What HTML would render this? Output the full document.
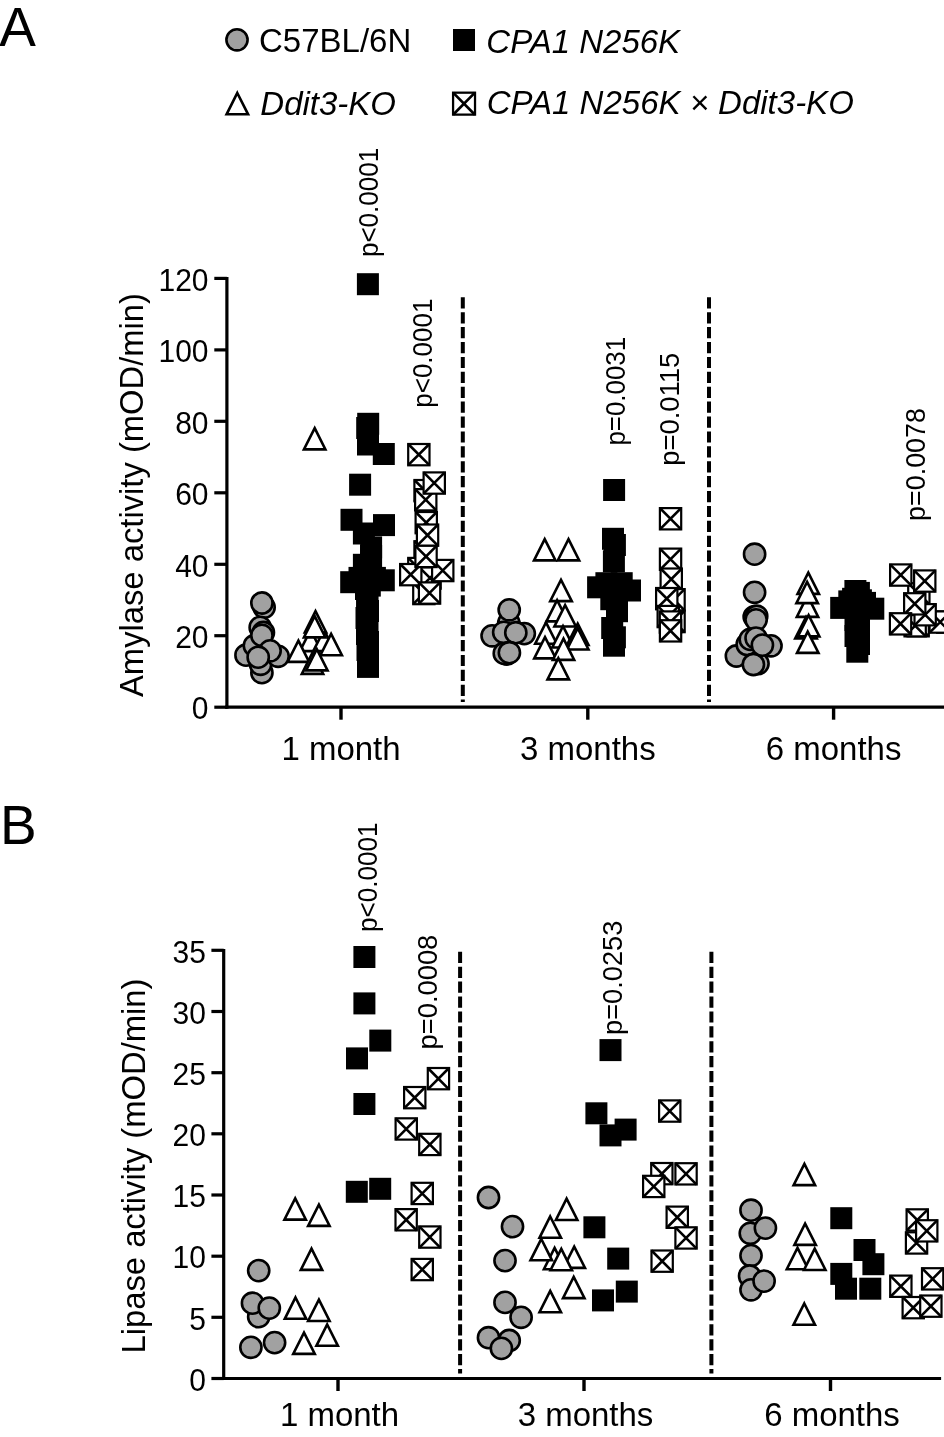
<!DOCTYPE html>
<html><head><meta charset="utf-8"><style>
html,body{margin:0;padding:0;background:#fff;width:944px;height:1437px;overflow:hidden}
svg{display:block}
text{font-family:"Liberation Sans", sans-serif;fill:#000}
.c{fill:#a1a1a1;stroke:#000;stroke-width:2.6}
.t{fill:#fff;stroke:#000;stroke-width:2.6;stroke-linejoin:miter;stroke-miterlimit:10}
.x rect{fill:#fff;stroke:#000;stroke-width:2.2}
.x path{fill:none;stroke:#000;stroke-width:2.6}
.ax{stroke:#000;stroke-width:3.2;fill:none;stroke-linecap:butt}
.dash{stroke:#000;stroke-width:4;stroke-dasharray:11.2 3.7;fill:none}
</style></head><body><div style="will-change:transform;width:944px;height:1437px">
<svg width="944" height="1437" viewBox="0 0 944 1437">
<rect width="944" height="1437" fill="#fff"/>
<text transform="translate(-0.85,45.9) scale(1,1.015)" font-size="55">A</text>
<text transform="translate(0.1,843.8) scale(1,1.015)" font-size="55">B</text>
<circle cx="237.0" cy="39.8" r="10.6" class="c"/>
<text transform="translate(259,52.3) scale(1,1.035)" font-size="33">C57BL/6N</text>
<rect x="453.0" y="29.0" width="22" height="22"/>
<text transform="translate(486.3,52.5) scale(1,1.035)" font-size="33" font-style="italic">CPA1 N256K</text>
<path d="M237.3,93.0L248.1,114.3H226.6Z" class="t"/>
<text transform="translate(260.3,114.5) scale(1,1.035)" font-size="33" font-style="italic">Ddit3-KO</text>
<g class="x" transform="translate(464,103.7) scale(1.03) translate(-464,-103.7)"><rect x="453.4" y="93.0" width="21.3" height="21.3"/><path d="M453.4,93.0L474.6,114.4M474.6,93.0L453.4,114.4"/></g>
<text transform="translate(486.7,114.4) scale(1,1.035)" font-size="33" font-style="italic">CPA1 N256K × Ddit3-KO</text>
<path class="ax" d="M226.9,277V708.8000000000001"/>
<path class="ax" d="M225.3,707.2H944"/>
<path class="ax" d="M214.3,707.2H226.9"/>
<text transform="translate(208.5,719.4) scale(1,1.05)" font-size="30" text-anchor="end">0</text>
<path class="ax" d="M214.3,635.7H226.9"/>
<text transform="translate(208.5,647.9) scale(1,1.05)" font-size="30" text-anchor="end">20</text>
<path class="ax" d="M214.3,564.3H226.9"/>
<text transform="translate(208.5,576.5) scale(1,1.05)" font-size="30" text-anchor="end">40</text>
<path class="ax" d="M214.3,492.8H226.9"/>
<text transform="translate(208.5,505.0) scale(1,1.05)" font-size="30" text-anchor="end">60</text>
<path class="ax" d="M214.3,421.3H226.9"/>
<text transform="translate(208.5,433.5) scale(1,1.05)" font-size="30" text-anchor="end">80</text>
<path class="ax" d="M214.3,349.9H226.9"/>
<text transform="translate(208.5,362.1) scale(1,1.05)" font-size="30" text-anchor="end">100</text>
<path class="ax" d="M214.3,278.4H226.9"/>
<text transform="translate(208.5,290.6) scale(1,1.05)" font-size="30" text-anchor="end">120</text>
<path class="ax" d="M341,707.2V719.7" style="stroke-width:3.4"/>
<text transform="translate(341,759.6) scale(1,1.01)" font-size="33" text-anchor="middle">1 month</text>
<path class="ax" d="M587.8,707.2V719.7" style="stroke-width:3.4"/>
<text transform="translate(587.8,759.6) scale(1,1.01)" font-size="33" text-anchor="middle">3 months</text>
<path class="ax" d="M833.6,707.2V719.7" style="stroke-width:3.4"/>
<text transform="translate(833.6,759.6) scale(1,1.01)" font-size="33" text-anchor="middle">6 months</text>
<path class="dash" d="M462.8,297.3V702"/>
<path class="dash" d="M709,297.3V702"/>
<text transform="translate(142.9,697) rotate(-90)" font-size="33" textLength="404.0" lengthAdjust="spacingAndGlyphs">Amylase activity (mOD/min)</text>
<path class="ax" d="M223.7,949V1380.1"/>
<path class="ax" d="M222.1,1378.5H941.1"/>
<path class="ax" d="M211.4,1378.5H223.7"/>
<text transform="translate(205.9,1390.7) scale(1,1.05)" font-size="30" text-anchor="end">0</text>
<path class="ax" d="M211.4,1317.3H223.7"/>
<text transform="translate(205.9,1329.5) scale(1,1.05)" font-size="30" text-anchor="end">5</text>
<path class="ax" d="M211.4,1256.2H223.7"/>
<text transform="translate(205.9,1268.4) scale(1,1.05)" font-size="30" text-anchor="end">10</text>
<path class="ax" d="M211.4,1195.0H223.7"/>
<text transform="translate(205.9,1207.2) scale(1,1.05)" font-size="30" text-anchor="end">15</text>
<path class="ax" d="M211.4,1133.8H223.7"/>
<text transform="translate(205.9,1146.0) scale(1,1.05)" font-size="30" text-anchor="end">20</text>
<path class="ax" d="M211.4,1072.7H223.7"/>
<text transform="translate(205.9,1084.9) scale(1,1.05)" font-size="30" text-anchor="end">25</text>
<path class="ax" d="M211.4,1011.5H223.7"/>
<text transform="translate(205.9,1023.7) scale(1,1.05)" font-size="30" text-anchor="end">30</text>
<path class="ax" d="M211.4,950.3H223.7"/>
<text transform="translate(205.9,962.5) scale(1,1.05)" font-size="30" text-anchor="end">35</text>
<path class="ax" d="M338,1378.5V1391.0" style="stroke-width:3.4"/>
<text transform="translate(339.5,1425.7) scale(1,1.01)" font-size="33" text-anchor="middle">1 month</text>
<path class="ax" d="M584,1378.5V1391.0" style="stroke-width:3.4"/>
<text transform="translate(585.5,1425.7) scale(1,1.01)" font-size="33" text-anchor="middle">3 months</text>
<path class="ax" d="M830.5,1378.5V1391.0" style="stroke-width:3.4"/>
<text transform="translate(832.0,1425.7) scale(1,1.01)" font-size="33" text-anchor="middle">6 months</text>
<path class="dash" d="M460.1,951.8V1373.4"/>
<path class="dash" d="M711.4,951.8V1373.4"/>
<text transform="translate(144.8,1353.5) rotate(-90)" font-size="33" textLength="375.0" lengthAdjust="spacingAndGlyphs">Lipase activity (mOD/min)</text>
<text transform="translate(377.7,257.1) rotate(-90)" font-size="27" textLength="109.4" lengthAdjust="spacingAndGlyphs">p&lt;0.0001</text>
<text transform="translate(431.8,407.7) rotate(-90)" font-size="27" textLength="109.1" lengthAdjust="spacingAndGlyphs">p&lt;0.0001</text>
<text transform="translate(624.7,445.6) rotate(-90)" font-size="27" textLength="108.8" lengthAdjust="spacingAndGlyphs">p=0.0031</text>
<text transform="translate(679.1,465.8) rotate(-90)" font-size="27" textLength="113.1" lengthAdjust="spacingAndGlyphs">p=0.0115</text>
<text transform="translate(924.9,520.9) rotate(-90)" font-size="27" textLength="112.8" lengthAdjust="spacingAndGlyphs">p=0.0078</text>
<text transform="translate(376.9,932) rotate(-90)" font-size="27" textLength="109.5" lengthAdjust="spacingAndGlyphs">p&lt;0.0001</text>
<text transform="translate(436.5,1049.4) rotate(-90)" font-size="27" textLength="114.7" lengthAdjust="spacingAndGlyphs">p=0.0008</text>
<text transform="translate(621.9,1035) rotate(-90)" font-size="27" textLength="114.4" lengthAdjust="spacingAndGlyphs">p=0.0253</text>
<g>
<circle cx="264.1" cy="607.3" r="10.6" class="c"/>
<circle cx="261.9" cy="603.0" r="10.6" class="c"/>
<circle cx="260.2" cy="627.4" r="10.6" class="c"/>
<circle cx="263.4" cy="632.5" r="10.6" class="c"/>
<circle cx="261.9" cy="672.7" r="10.6" class="c"/>
<circle cx="260.6" cy="664.3" r="10.6" class="c"/>
<circle cx="278.1" cy="656.3" r="10.6" class="c"/>
<circle cx="246.0" cy="655.2" r="10.6" class="c"/>
<circle cx="254.4" cy="645.7" r="10.6" class="c"/>
<circle cx="261.9" cy="635.4" r="10.6" class="c"/>
<circle cx="270.1" cy="650.8" r="10.6" class="c"/>
<circle cx="258.2" cy="657.2" r="10.6" class="c"/>
<path d="M314.7,428.1L325.4,449.4H303.9Z" class="t"/>
<path d="M310.6,629.8L321.4,651.1H299.9Z" class="t"/>
<path d="M324.0,629.8L334.8,651.1H313.2Z" class="t"/>
<path d="M331.1,633.9L341.9,655.2H320.4Z" class="t"/>
<path d="M315.5,611.2L326.2,632.5H304.8Z" class="t"/>
<path d="M314.7,616.1L325.4,637.4H303.9Z" class="t"/>
<path d="M298.4,640.6L309.1,661.9H287.6Z" class="t"/>
<path d="M312.5,652.6L323.2,673.9H301.8Z" class="t"/>
<path d="M316.8,649.1L327.6,670.4H306.1Z" class="t"/>
<rect x="356.9" y="273.2" width="22" height="22"/>
<rect x="357.2" y="412.8" width="22" height="22"/>
<rect x="356.2" y="417.0" width="22" height="22"/>
<rect x="357.0" y="433.5" width="22" height="22"/>
<rect x="372.8" y="443.0" width="22" height="22"/>
<rect x="349.1" y="473.7" width="22" height="22"/>
<rect x="340.5" y="508.8" width="22" height="22"/>
<rect x="373.0" y="514.1" width="22" height="22"/>
<rect x="352.9" y="522.5" width="22" height="22"/>
<rect x="360.1" y="536.4" width="22" height="22"/>
<rect x="360.1" y="545.0" width="22" height="22"/>
<rect x="352.9" y="553.8" width="22" height="22"/>
<rect x="348.5" y="566.9" width="22" height="22"/>
<rect x="363.9" y="566.9" width="22" height="22"/>
<rect x="340.2" y="571.2" width="22" height="22"/>
<rect x="372.8" y="569.3" width="22" height="22"/>
<rect x="358.8" y="574.6" width="22" height="22"/>
<rect x="355.0" y="578.0" width="22" height="22"/>
<rect x="356.1" y="589.0" width="22" height="22"/>
<rect x="356.5" y="595.0" width="22" height="22"/>
<rect x="357.0" y="600.0" width="22" height="22"/>
<rect x="355.5" y="607.0" width="22" height="22"/>
<rect x="356.5" y="615.0" width="22" height="22"/>
<rect x="356.0" y="623.0" width="22" height="22"/>
<rect x="357.0" y="631.0" width="22" height="22"/>
<rect x="356.5" y="639.0" width="22" height="22"/>
<rect x="357.0" y="647.0" width="22" height="22"/>
<rect x="357.0" y="655.9" width="22" height="22"/>
<g class="x"><rect x="414.4" y="480.0" width="21.3" height="21.3"/><path d="M414.4,480.0L435.6,501.2M435.6,480.0L414.4,501.2"/></g>
<g class="x"><rect x="415.1" y="489.1" width="21.3" height="21.3"/><path d="M415.1,489.1L436.3,510.3M436.3,489.1L415.1,510.3"/></g>
<g class="x"><rect x="423.6" y="472.4" width="21.3" height="21.3"/><path d="M423.6,472.4L444.8,493.6M444.8,472.4L423.6,493.6"/></g>
<g class="x"><rect x="408.2" y="444.0" width="21.3" height="21.3"/><path d="M408.2,444.0L429.4,465.2M429.4,444.0L408.2,465.2"/></g>
<g class="x"><rect x="415.6" y="512.0" width="21.3" height="21.3"/><path d="M415.6,512.0L436.8,533.2M436.8,512.0L415.6,533.2"/></g>
<g class="x"><rect x="414.4" y="541.2" width="21.3" height="21.3"/><path d="M414.4,541.2L435.6,562.5M435.6,541.2L414.4,562.5"/></g>
<g class="x"><rect x="416.9" y="524.5" width="21.3" height="21.3"/><path d="M416.9,524.5L438.1,545.8M438.1,524.5L416.9,545.8"/></g>
<g class="x"><rect x="408.2" y="557.9" width="21.3" height="21.3"/><path d="M408.2,557.9L429.4,579.1M429.4,557.9L408.2,579.1"/></g>
<g class="x"><rect x="419.4" y="567.4" width="21.3" height="21.3"/><path d="M419.4,567.4L440.6,588.6M440.6,567.4L419.4,588.6"/></g>
<g class="x"><rect x="413.2" y="582.9" width="21.3" height="21.3"/><path d="M413.2,582.9L434.4,604.1M434.4,582.9L413.2,604.1"/></g>
<g class="x"><rect x="400.1" y="564.0" width="21.3" height="21.3"/><path d="M400.1,564.0L421.3,585.2M421.3,564.0L400.1,585.2"/></g>
<g class="x"><rect x="432.1" y="559.9" width="21.3" height="21.3"/><path d="M432.1,559.9L453.3,581.1M453.3,559.9L432.1,581.1"/></g>
<g class="x"><rect x="415.4" y="545.8" width="21.3" height="21.3"/><path d="M415.4,545.8L436.6,567.0M436.6,545.8L415.4,567.0"/></g>
<g class="x"><rect x="418.9" y="582.4" width="21.3" height="21.3"/><path d="M418.9,582.4L440.1,603.6M440.1,582.4L418.9,603.6"/></g>
<circle cx="508.8" cy="622.8" r="10.6" class="c"/>
<circle cx="509.2" cy="609.8" r="10.6" class="c"/>
<circle cx="506.9" cy="654.0" r="10.6" class="c"/>
<circle cx="504.3" cy="653.4" r="10.6" class="c"/>
<circle cx="492.1" cy="635.8" r="10.6" class="c"/>
<circle cx="503.7" cy="632.3" r="10.6" class="c"/>
<circle cx="524.3" cy="633.6" r="10.6" class="c"/>
<circle cx="515.8" cy="632.7" r="10.6" class="c"/>
<circle cx="509.4" cy="652.7" r="10.6" class="c"/>
<path d="M544.7,539.1L555.5,560.4H534.0Z" class="t"/>
<path d="M568.5,539.1L579.2,560.4H557.8Z" class="t"/>
<path d="M561.0,579.8L571.8,601.1H550.2Z" class="t"/>
<path d="M557.1,600.1L567.9,621.4H546.4Z" class="t"/>
<path d="M565.1,605.2L575.9,626.5H554.4Z" class="t"/>
<path d="M546.0,622.4L556.8,643.7H535.2Z" class="t"/>
<path d="M563.0,626.2L573.8,647.5H552.2Z" class="t"/>
<path d="M577.7,623.7L588.5,645.0H567.0Z" class="t"/>
<path d="M577.7,628.2L588.5,649.5H567.0Z" class="t"/>
<path d="M545.0,637.1L555.8,658.4H534.2Z" class="t"/>
<path d="M563.5,638.6L574.2,659.9H552.8Z" class="t"/>
<path d="M558.3,658.1L569.0,679.4H547.5Z" class="t"/>
<rect x="603.1" y="479.0" width="22" height="22"/>
<rect x="602.0" y="527.8" width="22" height="22"/>
<rect x="603.9" y="534.0" width="22" height="22"/>
<rect x="602.9" y="550.3" width="22" height="22"/>
<rect x="595.4" y="572.2" width="22" height="22"/>
<rect x="610.7" y="572.2" width="22" height="22"/>
<rect x="587.1" y="576.3" width="22" height="22"/>
<rect x="619.0" y="579.5" width="22" height="22"/>
<rect x="600.3" y="588.2" width="22" height="22"/>
<rect x="606.0" y="600.2" width="22" height="22"/>
<rect x="601.2" y="617.0" width="22" height="22"/>
<rect x="603.9" y="626.3" width="22" height="22"/>
<rect x="603.0" y="634.7" width="22" height="22"/>
<g class="x"><rect x="659.9" y="508.1" width="21.3" height="21.3"/><path d="M659.9,508.1L681.1,529.4M681.1,508.1L659.9,529.4"/></g>
<g class="x"><rect x="659.9" y="548.6" width="21.3" height="21.3"/><path d="M659.9,548.6L681.1,569.9M681.1,548.6L659.9,569.9"/></g>
<g class="x"><rect x="660.6" y="568.5" width="21.3" height="21.3"/><path d="M660.6,568.5L681.9,589.8M681.9,568.5L660.6,589.8"/></g>
<g class="x"><rect x="663.4" y="589.1" width="21.3" height="21.3"/><path d="M663.4,589.1L684.6,610.4M684.6,589.1L663.4,610.4"/></g>
<g class="x"><rect x="656.1" y="588.0" width="21.3" height="21.3"/><path d="M656.1,588.0L677.4,609.2M677.4,588.0L656.1,609.2"/></g>
<g class="x"><rect x="663.4" y="610.9" width="21.3" height="21.3"/><path d="M663.4,610.9L684.6,632.1M684.6,610.9L663.4,632.1"/></g>
<g class="x"><rect x="657.6" y="605.9" width="21.3" height="21.3"/><path d="M657.6,605.9L678.9,627.1M678.9,605.9L657.6,627.1"/></g>
<g class="x"><rect x="659.8" y="611.4" width="21.3" height="21.3"/><path d="M659.8,611.4L681.0,632.6M681.0,611.4L659.8,632.6"/></g>
<g class="x"><rect x="659.9" y="620.2" width="21.3" height="21.3"/><path d="M659.9,620.2L681.1,641.5M681.1,620.2L659.9,641.5"/></g>
<circle cx="754.6" cy="554.2" r="10.6" class="c"/>
<circle cx="754.6" cy="592.3" r="10.6" class="c"/>
<circle cx="754.2" cy="616.8" r="10.6" class="c"/>
<circle cx="756.7" cy="616.2" r="10.6" class="c"/>
<circle cx="756.1" cy="619.8" r="10.6" class="c"/>
<circle cx="736.4" cy="656.0" r="10.6" class="c"/>
<circle cx="747.2" cy="644.5" r="10.6" class="c"/>
<circle cx="750.3" cy="639.4" r="10.6" class="c"/>
<circle cx="756.1" cy="638.1" r="10.6" class="c"/>
<circle cx="771.0" cy="645.8" r="10.6" class="c"/>
<circle cx="758.0" cy="663.6" r="10.6" class="c"/>
<circle cx="753.4" cy="664.5" r="10.6" class="c"/>
<circle cx="762.4" cy="645.1" r="10.6" class="c"/>
<path d="M807.5,595.6L818.2,616.9H796.8Z" class="t"/>
<path d="M808.3,572.6L819.0,593.9H797.5Z" class="t"/>
<path d="M807.1,581.8L817.9,603.1H796.4Z" class="t"/>
<path d="M806.0,617.1L816.8,638.4H795.2Z" class="t"/>
<path d="M808.6,615.1L819.4,636.4H797.9Z" class="t"/>
<path d="M807.7,631.6L818.5,652.9H797.0Z" class="t"/>
<rect x="844.4" y="580.0" width="22" height="22"/>
<rect x="847.9" y="581.9" width="22" height="22"/>
<rect x="842.1" y="587.8" width="22" height="22"/>
<rect x="838.3" y="590.4" width="22" height="22"/>
<rect x="849.9" y="589.3" width="22" height="22"/>
<rect x="854.0" y="591.9" width="22" height="22"/>
<rect x="830.2" y="596.9" width="22" height="22"/>
<rect x="862.3" y="597.7" width="22" height="22"/>
<rect x="844.5" y="609.0" width="22" height="22"/>
<rect x="848.0" y="617.0" width="22" height="22"/>
<rect x="844.5" y="625.0" width="22" height="22"/>
<rect x="848.0" y="633.0" width="22" height="22"/>
<rect x="846.3" y="640.7" width="22" height="22"/>
<g class="x"><rect x="908.2" y="583.2" width="21.3" height="21.3"/><path d="M908.2,583.2L929.5,604.5M929.5,583.2L908.2,604.5"/></g>
<g class="x"><rect x="890.1" y="564.4" width="21.3" height="21.3"/><path d="M890.1,564.4L911.4,585.6M911.4,564.4L890.1,585.6"/></g>
<g class="x"><rect x="914.1" y="570.4" width="21.3" height="21.3"/><path d="M914.1,570.4L935.4,591.6M935.4,570.4L914.1,591.6"/></g>
<g class="x"><rect x="937.1" y="611.4" width="21.3" height="21.3"/><path d="M937.1,611.4L958.4,632.6M958.4,611.4L937.1,632.6"/></g>
<g class="x"><rect x="929.6" y="611.4" width="21.3" height="21.3"/><path d="M929.6,611.4L950.9,632.6M950.9,611.4L929.6,632.6"/></g>
<g class="x"><rect x="907.5" y="615.1" width="21.3" height="21.3"/><path d="M907.5,615.1L928.8,636.4M928.8,615.1L907.5,636.4"/></g>
<g class="x"><rect x="904.5" y="615.1" width="21.3" height="21.3"/><path d="M904.5,615.1L925.8,636.4M925.8,615.1L904.5,636.4"/></g>
<g class="x"><rect x="914.5" y="604.1" width="21.3" height="21.3"/><path d="M914.5,604.1L935.8,625.4M935.8,604.1L914.5,625.4"/></g>
<g class="x"><rect x="904.1" y="593.2" width="21.3" height="21.3"/><path d="M904.1,593.2L925.4,614.5M925.4,593.2L904.1,614.5"/></g>
<g class="x"><rect x="889.9" y="613.2" width="21.3" height="21.3"/><path d="M889.9,613.2L911.1,634.5M911.1,613.2L889.9,634.5"/></g>
<circle cx="258.7" cy="1270.6" r="10.6" class="c"/>
<circle cx="258.7" cy="1316.7" r="10.6" class="c"/>
<circle cx="252.5" cy="1303.2" r="10.6" class="c"/>
<circle cx="269.3" cy="1308.1" r="10.6" class="c"/>
<circle cx="250.9" cy="1347.3" r="10.6" class="c"/>
<circle cx="274.6" cy="1342.6" r="10.6" class="c"/>
<path d="M295.2,1198.3L305.9,1219.6H284.4Z" class="t"/>
<path d="M318.9,1204.6L329.6,1225.9H308.1Z" class="t"/>
<path d="M311.5,1248.6L322.2,1269.9H300.8Z" class="t"/>
<path d="M295.5,1297.5L306.2,1318.8H284.8Z" class="t"/>
<path d="M318.9,1299.7L329.6,1321.0H308.1Z" class="t"/>
<path d="M327.2,1324.5L337.9,1345.8H316.4Z" class="t"/>
<path d="M304.0,1332.6L314.8,1353.9H293.2Z" class="t"/>
<rect x="353.4" y="946.0" width="22" height="22"/>
<rect x="353.4" y="992.4" width="22" height="22"/>
<rect x="369.3" y="1029.6" width="22" height="22"/>
<rect x="346.0" y="1047.4" width="22" height="22"/>
<rect x="353.4" y="1093.0" width="22" height="22"/>
<rect x="345.8" y="1180.8" width="22" height="22"/>
<rect x="369.2" y="1177.8" width="22" height="22"/>
<g class="x"><rect x="427.8" y="1068.0" width="21.3" height="21.3"/><path d="M427.8,1068.0L449.0,1089.4M449.0,1068.0L427.8,1089.4"/></g>
<g class="x"><rect x="404.1" y="1087.0" width="21.3" height="21.3"/><path d="M404.1,1087.0L425.3,1108.4M425.3,1087.0L404.1,1108.4"/></g>
<g class="x"><rect x="395.6" y="1118.3" width="21.3" height="21.3"/><path d="M395.6,1118.3L416.8,1139.7M416.8,1118.3L395.6,1139.7"/></g>
<g class="x"><rect x="419.2" y="1133.8" width="21.3" height="21.3"/><path d="M419.2,1133.8L440.5,1155.1M440.5,1133.8L419.2,1155.1"/></g>
<g class="x"><rect x="411.6" y="1182.8" width="21.3" height="21.3"/><path d="M411.6,1182.8L432.8,1204.1M432.8,1182.8L411.6,1204.1"/></g>
<g class="x"><rect x="395.5" y="1209.1" width="21.3" height="21.3"/><path d="M395.5,1209.1L416.8,1230.5M416.8,1209.1L395.5,1230.5"/></g>
<g class="x"><rect x="419.2" y="1226.4" width="21.3" height="21.3"/><path d="M419.2,1226.4L440.5,1247.8M440.5,1226.4L419.2,1247.8"/></g>
<g class="x"><rect x="411.6" y="1258.9" width="21.3" height="21.3"/><path d="M411.6,1258.9L432.8,1280.2M432.8,1258.9L411.6,1280.2"/></g>
<circle cx="488.5" cy="1197.5" r="10.6" class="c"/>
<circle cx="512.5" cy="1226.6" r="10.6" class="c"/>
<circle cx="505.0" cy="1260.6" r="10.6" class="c"/>
<circle cx="505.0" cy="1302.4" r="10.6" class="c"/>
<circle cx="521.1" cy="1317.3" r="10.6" class="c"/>
<circle cx="509.2" cy="1340.5" r="10.6" class="c"/>
<circle cx="488.5" cy="1337.7" r="10.6" class="c"/>
<circle cx="501.4" cy="1348.4" r="10.6" class="c"/>
<path d="M566.6,1198.7L577.4,1220.0H555.9Z" class="t"/>
<path d="M550.2,1216.5L561.0,1237.8H539.5Z" class="t"/>
<path d="M554.6,1247.9L565.4,1269.2H543.9Z" class="t"/>
<path d="M574.2,1246.6L585.0,1267.9H563.5Z" class="t"/>
<path d="M541.3,1239.0L552.0,1260.3H530.5Z" class="t"/>
<path d="M561.3,1248.9L572.0,1270.2H550.5Z" class="t"/>
<path d="M573.7,1276.8L584.5,1298.1H563.0Z" class="t"/>
<path d="M550.2,1290.9L561.0,1312.2H539.5Z" class="t"/>
<rect x="599.5" y="1039.1" width="22" height="22"/>
<rect x="585.4" y="1102.3" width="22" height="22"/>
<rect x="614.6" y="1118.6" width="22" height="22"/>
<rect x="599.5" y="1124.4" width="22" height="22"/>
<rect x="583.4" y="1216.3" width="22" height="22"/>
<rect x="607.2" y="1247.6" width="22" height="22"/>
<rect x="615.8" y="1280.6" width="22" height="22"/>
<rect x="592.0" y="1289.4" width="22" height="22"/>
<g class="x"><rect x="659.1" y="1100.4" width="21.3" height="21.3"/><path d="M659.1,1100.4L680.4,1121.8M680.4,1100.4L659.1,1121.8"/></g>
<g class="x"><rect x="651.2" y="1163.0" width="21.3" height="21.3"/><path d="M651.2,1163.0L672.5,1184.4M672.5,1163.0L651.2,1184.4"/></g>
<g class="x"><rect x="675.4" y="1163.2" width="21.3" height="21.3"/><path d="M675.4,1163.2L696.6,1184.6M696.6,1163.2L675.4,1184.6"/></g>
<g class="x"><rect x="643.1" y="1175.8" width="21.3" height="21.3"/><path d="M643.1,1175.8L664.4,1197.1M664.4,1175.8L643.1,1197.1"/></g>
<g class="x"><rect x="666.6" y="1206.6" width="21.3" height="21.3"/><path d="M666.6,1206.6L687.9,1228.0M687.9,1206.6L666.6,1228.0"/></g>
<g class="x"><rect x="675.4" y="1227.3" width="21.3" height="21.3"/><path d="M675.4,1227.3L696.6,1248.7M696.6,1227.3L675.4,1248.7"/></g>
<g class="x"><rect x="651.5" y="1250.5" width="21.3" height="21.3"/><path d="M651.5,1250.5L672.8,1271.9M672.8,1250.5L651.5,1271.9"/></g>
<circle cx="751.0" cy="1210.2" r="10.6" class="c"/>
<circle cx="750.3" cy="1233.3" r="10.6" class="c"/>
<circle cx="765.4" cy="1228.1" r="10.6" class="c"/>
<circle cx="751.0" cy="1255.6" r="10.6" class="c"/>
<circle cx="749.6" cy="1276.0" r="10.6" class="c"/>
<circle cx="751.0" cy="1289.8" r="10.6" class="c"/>
<circle cx="764.1" cy="1281.1" r="10.6" class="c"/>
<path d="M804.4,1163.8L815.1,1185.1H793.6Z" class="t"/>
<path d="M805.1,1223.6L815.9,1244.9H794.4Z" class="t"/>
<path d="M797.5,1247.9L808.2,1269.2H786.8Z" class="t"/>
<path d="M814.7,1248.7L825.5,1270.0H804.0Z" class="t"/>
<path d="M804.3,1303.5L815.0,1324.8H793.5Z" class="t"/>
<rect x="830.3" y="1207.2" width="22" height="22"/>
<rect x="853.5" y="1239.0" width="22" height="22"/>
<rect x="862.4" y="1253.2" width="22" height="22"/>
<rect x="830.3" y="1262.9" width="22" height="22"/>
<rect x="835.0" y="1277.7" width="22" height="22"/>
<rect x="859.3" y="1277.7" width="22" height="22"/>
<g class="x"><rect x="906.6" y="1209.3" width="21.3" height="21.3"/><path d="M906.6,1209.3L927.9,1230.7M927.9,1209.3L906.6,1230.7"/></g>
<g class="x"><rect x="905.9" y="1232.3" width="21.3" height="21.3"/><path d="M905.9,1232.3L927.1,1253.7M927.1,1232.3L905.9,1253.7"/></g>
<g class="x"><rect x="916.1" y="1220.2" width="21.3" height="21.3"/><path d="M916.1,1220.2L937.4,1241.6M937.4,1220.2L916.1,1241.6"/></g>
<g class="x"><rect x="922.0" y="1268.2" width="21.3" height="21.3"/><path d="M922.0,1268.2L943.2,1289.6M943.2,1268.2L922.0,1289.6"/></g>
<g class="x"><rect x="890.2" y="1275.6" width="21.3" height="21.3"/><path d="M890.2,1275.6L911.5,1297.0M911.5,1275.6L890.2,1297.0"/></g>
<g class="x"><rect x="902.6" y="1297.0" width="21.3" height="21.3"/><path d="M902.6,1297.0L923.9,1318.4M923.9,1297.0L902.6,1318.4"/></g>
<g class="x"><rect x="920.2" y="1295.5" width="21.3" height="21.3"/><path d="M920.2,1295.5L941.5,1316.9M941.5,1295.5L920.2,1316.9"/></g>
</g>
</svg></div></body></html>
